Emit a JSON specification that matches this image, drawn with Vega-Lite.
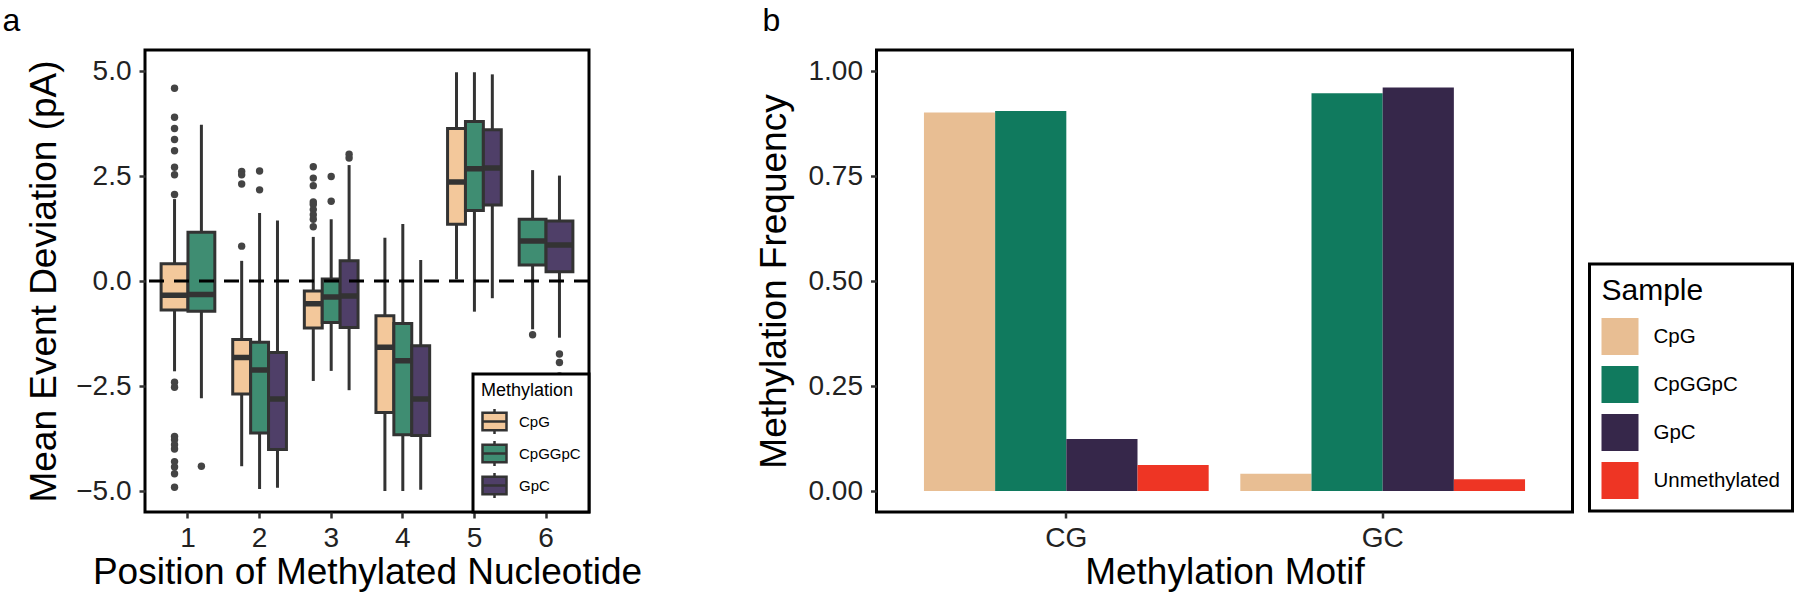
{
  "$schema": "https://vega.github.io/schema/vega-lite/v6.json",
  "autosize": {"type": "pad"},
  "padding": {"left": 1, "top": 3, "right": 0, "bottom": 0},
  "background": "white",
  "bounds": "flush",
  "spacing": 287.5,
  "config": {
    "font": "Liberation Sans",
    "view": {"stroke": "black", "strokeWidth": 3},
    "axis": {"domain": false, "grid": false, "tickColor": "#333333", "tickWidth": 2.5, "tickSize": 6, "labelFontSize": 28, "labelColor": "#222222", "labelFont": "Liberation Sans", "titleFont": "Liberation Sans", "titleFontSize": 37, "titleFontWeight": "normal", "titleColor": "black", "labelPadding": 8},
    "title": {"fontSize": 32, "fontWeight": "normal", "anchor": "start", "frame": "group", "baseline": "alphabetic", "offset": 12.5, "color": "black", "font": "Liberation Sans"},
    "legend": {"labelFont": "Liberation Sans", "titleFont": "Liberation Sans"}
  },
  "datasets": {
    "boxes": [
      {"pos": 1, "Methylation": "CpG", "lower": -2.15, "q1": -0.69, "median": -0.34, "q3": 0.41, "upper": 1.95},
      {"pos": 1, "Methylation": "CpGGpC", "lower": -2.79, "q1": -0.72, "median": -0.32, "q3": 1.16, "upper": 3.72},
      {"pos": 2, "Methylation": "CpG", "lower": -4.41, "q1": -2.69, "median": -1.82, "q3": -1.39, "upper": 0.48},
      {"pos": 2, "Methylation": "CpGGpC", "lower": -4.95, "q1": -3.62, "median": -2.12, "q3": -1.46, "upper": 1.62},
      {"pos": 2, "Methylation": "GpC", "lower": -4.92, "q1": -4.01, "median": -2.81, "q3": -1.7, "upper": 1.44},
      {"pos": 3, "Methylation": "CpG", "lower": -2.38, "q1": -1.12, "median": -0.54, "q3": -0.24, "upper": 1.05},
      {"pos": 3, "Methylation": "CpGGpC", "lower": -2.14, "q1": -0.99, "median": -0.38, "q3": 0.05, "upper": 1.47},
      {"pos": 3, "Methylation": "GpC", "lower": -2.6, "q1": -1.11, "median": -0.36, "q3": 0.48, "upper": 2.76},
      {"pos": 4, "Methylation": "CpG", "lower": -5.0, "q1": -3.13, "median": -1.58, "q3": -0.83, "upper": 1.03},
      {"pos": 4, "Methylation": "CpGGpC", "lower": -5.0, "q1": -3.66, "median": -1.9, "q3": -1.01, "upper": 1.36},
      {"pos": 4, "Methylation": "GpC", "lower": -4.97, "q1": -3.68, "median": -2.81, "q3": -1.54, "upper": 0.5},
      {"pos": 5, "Methylation": "CpG", "lower": 0.04, "q1": 1.35, "median": 2.36, "q3": 3.63, "upper": 4.97},
      {"pos": 5, "Methylation": "CpGGpC", "lower": -0.73, "q1": 1.68, "median": 2.67, "q3": 3.8, "upper": 4.97},
      {"pos": 5, "Methylation": "GpC", "lower": -0.41, "q1": 1.81, "median": 2.69, "q3": 3.6, "upper": 4.92},
      {"pos": 6, "Methylation": "CpGGpC", "lower": -1.15, "q1": 0.38, "median": 0.95, "q3": 1.47, "upper": 2.64},
      {"pos": 6, "Methylation": "GpC", "lower": -1.35, "q1": 0.22, "median": 0.86, "q3": 1.43, "upper": 2.51}
    ],
    "outliers": [
      {"pos": 1, "Methylation": "CpG", "value": 4.59},
      {"pos": 1, "Methylation": "CpG", "value": 3.9},
      {"pos": 1, "Methylation": "CpG", "value": 3.63},
      {"pos": 1, "Methylation": "CpG", "value": 3.37},
      {"pos": 1, "Methylation": "CpG", "value": 3.1},
      {"pos": 1, "Methylation": "CpG", "value": 2.71},
      {"pos": 1, "Methylation": "CpG", "value": 2.53},
      {"pos": 1, "Methylation": "CpG", "value": 2.06},
      {"pos": 1, "Methylation": "CpG", "value": -2.41},
      {"pos": 1, "Methylation": "CpG", "value": -2.53},
      {"pos": 1, "Methylation": "CpG", "value": -3.7},
      {"pos": 1, "Methylation": "CpG", "value": -3.78},
      {"pos": 1, "Methylation": "CpG", "value": -3.9},
      {"pos": 1, "Methylation": "CpG", "value": -4.0},
      {"pos": 1, "Methylation": "CpG", "value": -4.3},
      {"pos": 1, "Methylation": "CpG", "value": -4.43},
      {"pos": 1, "Methylation": "CpG", "value": -4.59},
      {"pos": 1, "Methylation": "CpG", "value": -4.91},
      {"pos": 1, "Methylation": "CpGGpC", "value": -4.41},
      {"pos": 2, "Methylation": "CpG", "value": 2.61},
      {"pos": 2, "Methylation": "CpG", "value": 2.53},
      {"pos": 2, "Methylation": "CpG", "value": 2.31},
      {"pos": 2, "Methylation": "CpG", "value": 0.83},
      {"pos": 2, "Methylation": "CpGGpC", "value": 2.62},
      {"pos": 2, "Methylation": "CpGGpC", "value": 2.17},
      {"pos": 3, "Methylation": "CpG", "value": 2.72},
      {"pos": 3, "Methylation": "CpG", "value": 2.45},
      {"pos": 3, "Methylation": "CpG", "value": 2.27},
      {"pos": 3, "Methylation": "CpG", "value": 1.88},
      {"pos": 3, "Methylation": "CpG", "value": 1.82},
      {"pos": 3, "Methylation": "CpG", "value": 1.7},
      {"pos": 3, "Methylation": "CpG", "value": 1.58},
      {"pos": 3, "Methylation": "CpG", "value": 1.47},
      {"pos": 3, "Methylation": "CpG", "value": 1.29},
      {"pos": 3, "Methylation": "CpGGpC", "value": 2.49},
      {"pos": 3, "Methylation": "CpGGpC", "value": 1.9},
      {"pos": 3, "Methylation": "GpC", "value": 3.02},
      {"pos": 3, "Methylation": "GpC", "value": 2.93},
      {"pos": 6, "Methylation": "CpGGpC", "value": -1.28},
      {"pos": 6, "Methylation": "GpC", "value": -1.74},
      {"pos": 6, "Methylation": "GpC", "value": -1.94},
      {"pos": 6, "Methylation": "GpC", "value": -2.26}
    ],
    "freq": [
      {"Motif": "CG", "Sample": "CpG", "frequency": 0.901},
      {"Motif": "CG", "Sample": "CpGGpC", "frequency": 0.905},
      {"Motif": "CG", "Sample": "GpC", "frequency": 0.124},
      {"Motif": "CG", "Sample": "Unmethylated", "frequency": 0.062},
      {"Motif": "GC", "Sample": "CpG", "frequency": 0.041},
      {"Motif": "GC", "Sample": "CpGGpC", "frequency": 0.947},
      {"Motif": "GC", "Sample": "GpC", "frequency": 0.961},
      {"Motif": "GC", "Sample": "Unmethylated", "frequency": 0.028}
    ]
  },
  "resolve": {"scale": {"color": "independent", "x": "independent", "y": "independent", "xOffset": "independent"}, "legend": {"color": "independent"}},
  "hconcat": [
    {
      "width": 444,
      "height": 462,
      "title": {"text": "a", "dx": -142.5},
      "resolve": {"scale": {"xOffset": "independent"}},
      "layer": [
        {
          "encoding": {
            "x": {"field": "pos", "type": "ordinal", "scale": {"domain": [1, 2, 3, 4, 5, 6], "paddingInner": 0.25, "paddingOuter": 0.225}, "axis": {"labelAngle": 0, "labelPadding": 6, "titlePadding": 2}, "title": "Position of Methylated Nucleotide"},
            "xOffset": {"field": "Methylation", "type": "nominal", "scale": {"domain": ["CpG", "CpGGpC"], "paddingInner": 0, "paddingOuter": 0}}
          },
          "layer": [
            {"data": {"name": "boxes"}, "transform": [{"filter": "datum.pos == 1"}], "mark": {"type": "rule", "color": "#333333", "strokeWidth": 3}, "encoding": {"y": {"field": "lower", "type": "quantitative", "scale": {"domain": [-5.5, 5.5], "nice": false, "zero": false}, "axis": {"values": [-5, -2.5, 0, 2.5, 5], "format": ".1f", "titlePadding": 12}, "title": "Mean Event Deviation (pA)"}, "y2": {"field": "upper"}}},
            {"data": {"name": "boxes"}, "transform": [{"filter": "datum.pos == 1"}], "mark": {"type": "bar", "stroke": "#333333", "strokeWidth": 3}, "encoding": {"y": {"field": "q1", "type": "quantitative", "scale": {"domain": [-5.5, 5.5], "nice": false, "zero": false}, "axis": {"values": [-5, -2.5, 0, 2.5, 5], "format": ".1f", "titlePadding": 12}, "title": "Mean Event Deviation (pA)"}, "y2": {"field": "q3"},
              "color": {"field": "Methylation", "type": "nominal", "scale": {"domain": ["CpG", "CpGGpC", "GpC"], "range": ["#F3C89B", "#3F8D72", "#4F3F68"]}, "legend": {"title": "Methylation", "orient": "bottom-right", "offset": 0, "padding": 8, "titleFontSize": 18, "titleFontWeight": "normal", "titleColor": "black", "titlePadding": 8, "labelFontSize": 15, "labelColor": "black", "labelOffset": 11, "rowPadding": -10, "symbolType": "M-1,-0.72H1V0.72H-1Z M-1,0H1 M0,-0.72V-1.05 M0,0.72V1.05", "symbolSize": 576, "symbolStrokeColor": "#333333", "symbolStrokeWidth": 2.5, "strokeColor": "black", "fillColor": "white", "encode": {"legend": {"update": {"strokeWidth": {"value": 3}}}}}}}},
            {"data": {"name": "boxes"}, "transform": [{"filter": "datum.pos == 1"}], "mark": {"type": "bar", "stroke": "#333333", "strokeWidth": 5.5, "fill": "#333333"}, "encoding": {"y": {"field": "median", "type": "quantitative", "scale": {"domain": [-5.5, 5.5], "nice": false, "zero": false}, "axis": {"values": [-5, -2.5, 0, 2.5, 5], "format": ".1f", "titlePadding": 12}, "title": "Mean Event Deviation (pA)"}, "y2": {"field": "median"}}},
            {"data": {"name": "outliers"}, "transform": [{"filter": "datum.pos == 1"}], "mark": {"type": "point", "filled": true, "color": "#444444", "size": 55, "opacity": 1}, "encoding": {"y": {"field": "value", "type": "quantitative", "scale": {"domain": [-5.5, 5.5], "nice": false, "zero": false}, "axis": {"values": [-5, -2.5, 0, 2.5, 5], "format": ".1f", "titlePadding": 12}, "title": "Mean Event Deviation (pA)"}}}
          ]
        },
        {
          "encoding": {
            "x": {"field": "pos", "type": "ordinal", "scale": {"domain": [1, 2, 3, 4, 5, 6], "paddingInner": 0.25, "paddingOuter": 0.225}, "axis": {"labelAngle": 0, "labelPadding": 6, "titlePadding": 2}, "title": "Position of Methylated Nucleotide"},
            "xOffset": {"field": "Methylation", "type": "nominal", "scale": {"domain": ["CpG", "CpGGpC", "GpC"], "paddingInner": 0, "paddingOuter": 0}}
          },
          "layer": [
            {"data": {"name": "boxes"}, "transform": [{"filter": "datum.pos >= 2 && datum.pos <= 5"}], "mark": {"type": "rule", "color": "#333333", "strokeWidth": 3}, "encoding": {"y": {"field": "lower", "type": "quantitative", "scale": {"domain": [-5.5, 5.5], "nice": false, "zero": false}, "axis": {"values": [-5, -2.5, 0, 2.5, 5], "format": ".1f", "titlePadding": 12}, "title": "Mean Event Deviation (pA)"}, "y2": {"field": "upper"}}},
            {"data": {"name": "boxes"}, "transform": [{"filter": "datum.pos >= 2 && datum.pos <= 5"}], "mark": {"type": "bar", "stroke": "#333333", "strokeWidth": 3}, "encoding": {"y": {"field": "q1", "type": "quantitative", "scale": {"domain": [-5.5, 5.5], "nice": false, "zero": false}, "axis": {"values": [-5, -2.5, 0, 2.5, 5], "format": ".1f", "titlePadding": 12}, "title": "Mean Event Deviation (pA)"}, "y2": {"field": "q3"},
              "color": {"field": "Methylation", "type": "nominal", "scale": {"domain": ["CpG", "CpGGpC", "GpC"], "range": ["#F3C89B", "#3F8D72", "#4F3F68"]}, "legend": {"title": "Methylation", "orient": "bottom-right", "offset": 0, "padding": 8, "titleFontSize": 18, "titleFontWeight": "normal", "titleColor": "black", "titlePadding": 8, "labelFontSize": 15, "labelColor": "black", "labelOffset": 11, "rowPadding": -10, "symbolType": "M-1,-0.72H1V0.72H-1Z M-1,0H1 M0,-0.72V-1.05 M0,0.72V1.05", "symbolSize": 576, "symbolStrokeColor": "#333333", "symbolStrokeWidth": 2.5, "strokeColor": "black", "fillColor": "white", "encode": {"legend": {"update": {"strokeWidth": {"value": 3}}}}}}}},
            {"data": {"name": "boxes"}, "transform": [{"filter": "datum.pos >= 2 && datum.pos <= 5"}], "mark": {"type": "bar", "stroke": "#333333", "strokeWidth": 5.5, "fill": "#333333"}, "encoding": {"y": {"field": "median", "type": "quantitative", "scale": {"domain": [-5.5, 5.5], "nice": false, "zero": false}, "axis": {"values": [-5, -2.5, 0, 2.5, 5], "format": ".1f", "titlePadding": 12}, "title": "Mean Event Deviation (pA)"}, "y2": {"field": "median"}}},
            {"data": {"name": "outliers"}, "transform": [{"filter": "datum.pos >= 2 && datum.pos <= 5"}], "mark": {"type": "point", "filled": true, "color": "#444444", "size": 55, "opacity": 1}, "encoding": {"y": {"field": "value", "type": "quantitative", "scale": {"domain": [-5.5, 5.5], "nice": false, "zero": false}, "axis": {"values": [-5, -2.5, 0, 2.5, 5], "format": ".1f", "titlePadding": 12}, "title": "Mean Event Deviation (pA)"}}}
          ]
        },
        {
          "encoding": {
            "x": {"field": "pos", "type": "ordinal", "scale": {"domain": [1, 2, 3, 4, 5, 6], "paddingInner": 0.25, "paddingOuter": 0.225}, "axis": {"labelAngle": 0, "labelPadding": 6, "titlePadding": 2}, "title": "Position of Methylated Nucleotide"},
            "xOffset": {"field": "Methylation", "type": "nominal", "scale": {"domain": ["CpGGpC", "GpC"], "paddingInner": 0, "paddingOuter": 0}}
          },
          "layer": [
            {"data": {"name": "boxes"}, "transform": [{"filter": "datum.pos == 6"}], "mark": {"type": "rule", "color": "#333333", "strokeWidth": 3}, "encoding": {"y": {"field": "lower", "type": "quantitative", "scale": {"domain": [-5.5, 5.5], "nice": false, "zero": false}, "axis": {"values": [-5, -2.5, 0, 2.5, 5], "format": ".1f", "titlePadding": 12}, "title": "Mean Event Deviation (pA)"}, "y2": {"field": "upper"}}},
            {"data": {"name": "boxes"}, "transform": [{"filter": "datum.pos == 6"}], "mark": {"type": "bar", "stroke": "#333333", "strokeWidth": 3}, "encoding": {"y": {"field": "q1", "type": "quantitative", "scale": {"domain": [-5.5, 5.5], "nice": false, "zero": false}, "axis": {"values": [-5, -2.5, 0, 2.5, 5], "format": ".1f", "titlePadding": 12}, "title": "Mean Event Deviation (pA)"}, "y2": {"field": "q3"},
              "color": {"field": "Methylation", "type": "nominal", "scale": {"domain": ["CpG", "CpGGpC", "GpC"], "range": ["#F3C89B", "#3F8D72", "#4F3F68"]}, "legend": {"title": "Methylation", "orient": "bottom-right", "offset": 0, "padding": 8, "titleFontSize": 18, "titleFontWeight": "normal", "titleColor": "black", "titlePadding": 8, "labelFontSize": 15, "labelColor": "black", "labelOffset": 11, "rowPadding": -10, "symbolType": "M-1,-0.72H1V0.72H-1Z M-1,0H1 M0,-0.72V-1.05 M0,0.72V1.05", "symbolSize": 576, "symbolStrokeColor": "#333333", "symbolStrokeWidth": 2.5, "strokeColor": "black", "fillColor": "white", "encode": {"legend": {"update": {"strokeWidth": {"value": 3}}}}}}}},
            {"data": {"name": "boxes"}, "transform": [{"filter": "datum.pos == 6"}], "mark": {"type": "bar", "stroke": "#333333", "strokeWidth": 5.5, "fill": "#333333"}, "encoding": {"y": {"field": "median", "type": "quantitative", "scale": {"domain": [-5.5, 5.5], "nice": false, "zero": false}, "axis": {"values": [-5, -2.5, 0, 2.5, 5], "format": ".1f", "titlePadding": 12}, "title": "Mean Event Deviation (pA)"}, "y2": {"field": "median"}}},
            {"data": {"name": "outliers"}, "transform": [{"filter": "datum.pos == 6"}], "mark": {"type": "point", "filled": true, "color": "#444444", "size": 55, "opacity": 1}, "encoding": {"y": {"field": "value", "type": "quantitative", "scale": {"domain": [-5.5, 5.5], "nice": false, "zero": false}, "axis": {"values": [-5, -2.5, 0, 2.5, 5], "format": ".1f", "titlePadding": 12}, "title": "Mean Event Deviation (pA)"}}}
          ]
        },
        {
          "data": {"values": [{}]},
          "mark": {"type": "rule", "color": "black", "strokeWidth": 3, "strokeDash": [15, 10]},
          "encoding": {"y": {"datum": 0}}
        }
      ]
    },
    {
      "width": 696,
      "height": 462,
      "title": {"text": "b", "dx": -114},
      "data": {"name": "freq"},
      "mark": {"type": "bar"},
      "encoding": {
        "x": {"field": "Motif", "type": "nominal", "scale": {"domain": ["CG", "GC"], "paddingInner": 0.1, "paddingOuter": 0.15}, "axis": {"labelAngle": 0, "labelPadding": 6, "titlePadding": 2}, "title": "Methylation Motif"},
        "xOffset": {"field": "Sample", "type": "nominal", "scale": {"domain": ["CpG", "CpGGpC", "GpC", "Unmethylated"], "paddingInner": 0, "paddingOuter": 0}},
        "y": {"field": "frequency", "type": "quantitative", "stack": null, "scale": {"domain": [-0.05, 1.05], "nice": false, "zero": false}, "axis": {"values": [0, 0.25, 0.5, 0.75, 1], "format": ".2f", "titlePadding": 15}, "title": "Methylation Frequency"},
        "color": {"field": "Sample", "type": "nominal", "scale": {"domain": ["CpG", "CpGGpC", "GpC", "Unmethylated"], "range": ["#E8BE93", "#107A5E", "#36274A", "#EE3524"]}, "legend": {"title": "Sample", "orient": "none", "legendX": 713, "legendY": 214, "padding": 12, "titleFontSize": 30, "titleFontWeight": "normal", "titleColor": "black", "titlePadding": 12, "labelFontSize": 20.5, "labelColor": "black", "labelOffset": 15, "rowPadding": 11, "symbolType": "square", "symbolSize": 1369, "symbolStrokeWidth": 0, "symbolOpacity": 1, "strokeColor": "black", "fillColor": "white", "encode": {"legend": {"update": {"strokeWidth": {"value": 3}}}}}}
      }
    }
  ]
}
